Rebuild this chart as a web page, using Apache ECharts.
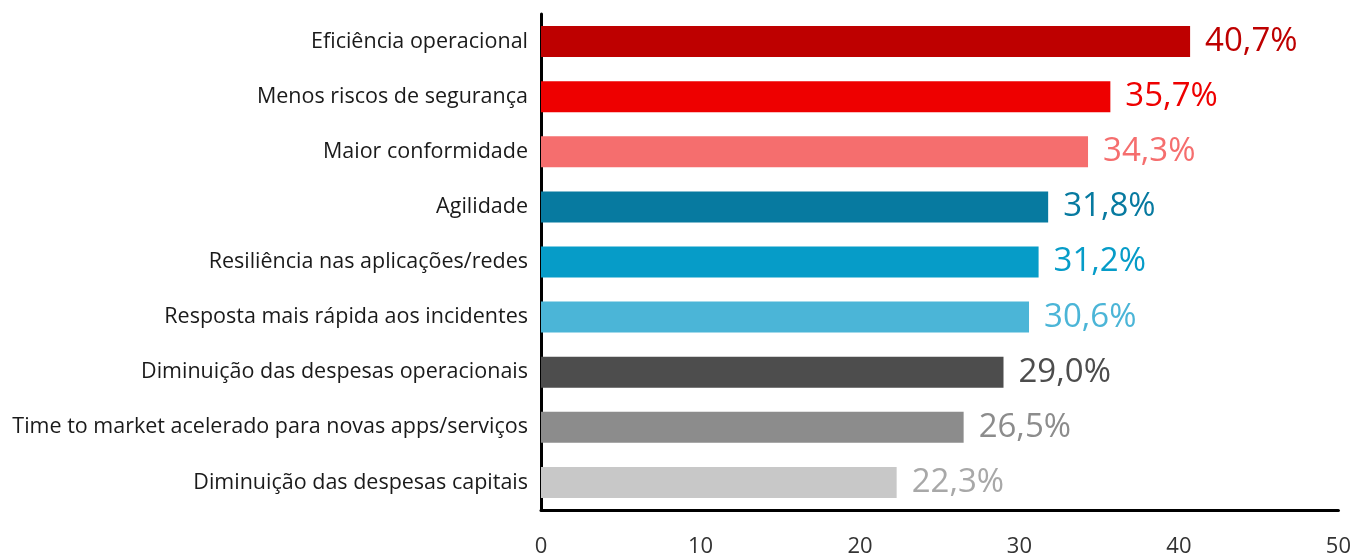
<!DOCTYPE html>
<html>
<head>
<meta charset="utf-8">
<script src="https://cdn.jsdelivr.net/npm/echarts@6/dist/echarts.min.js"></script>
<style>
    html, body { margin: 0; padding: 0; background: #fff; }
    #chart { width: 1354px; height: 558px; }
</style>
</head>
<body>
<div id="chart"></div>
<script>
// Data
var categories = [
    'Eficiência operacional',
    'Menos riscos de segurança',
    'Maior conformidade',
    'Agilidade',
    'Resiliência nas aplicações/redes',
    'Resposta mais rápida aos incidentes',
    'Diminuição das despesas operacionais',
    'Time to market acelerado para novas apps/serviços',
    'Diminuição das despesas capitais'
];
var values = [40.7, 35.7, 34.3, 31.8, 31.2, 30.6, 29.0, 26.5, 22.3];
var barColors = ['#BE0000', '#EE0000', '#F56E6E', '#077AA0', '#069CC8', '#4BB5D7', '#4D4D4D', '#8C8C8C', '#C8C8C8'];
var labelColors = ['#BE0000', '#EE0000', '#F56E6E', '#077AA0', '#069CC8', '#4BB5D7', '#4D4D4D', '#8C8C8C', '#A8A8A8'];
var xTicks = [0, 10, 20, 30, 40, 50];

var chart = echarts.init(document.getElementById('chart'));

chart.setOption({

    animation: false,

    // Global text styles
    textStyle: {
        fontFamily: '"Open Sans", Arial, sans-serif'
    },

    // Setup grid
    grid: {
        left: 541,
        right: 15,
        top: 14,
        bottom: 44,
        containLabel: false
    },

    // Horizontal axis
    xAxis: {
        type: 'value',
        min: xTicks[0],
        max: xTicks[xTicks.length - 1],
        interval: 10,
        axisLine: {
            show: true,
            lineStyle: { color: '#000', width: 3 }
        },
        axisTick: { show: false },
        splitLine: { show: false },
        axisLabel: {
            margin: 26,
            color: '#333',
            fontSize: 22,
            fontFamily: '"Open Sans", sans-serif'
        }
    },

    // Vertical axis
    yAxis: {
        type: 'category',
        inverse: true,
        data: categories,
        axisLine: {
            show: true,
            lineStyle: { color: '#000', width: 3 }
        },
        axisTick: { show: false },
        axisLabel: {
            margin: 13,
            color: '#1a1a1a',
            fontSize: 21.5,
            fontFamily: '"Open Sans", sans-serif'
        }
    },

    // Series
    series: [{
        type: 'bar',
        barWidth: 31,
        data: values.map(function (v, i) {
            return {
                value: v,
                itemStyle: { color: barColors[i] },
                label: { color: labelColors[i] }
            };
        }),
        label: {
            show: true,
            position: 'right',
            distance: 15,
            fontSize: 33,
            fontFamily: '"Open Sans", sans-serif',
            fontWeight: 'normal',
            formatter: function (p) {
                return p.value.toFixed(1).replace('.', ',') + '%';
            }
        }
    }]
});
</script>
</body>
</html>
